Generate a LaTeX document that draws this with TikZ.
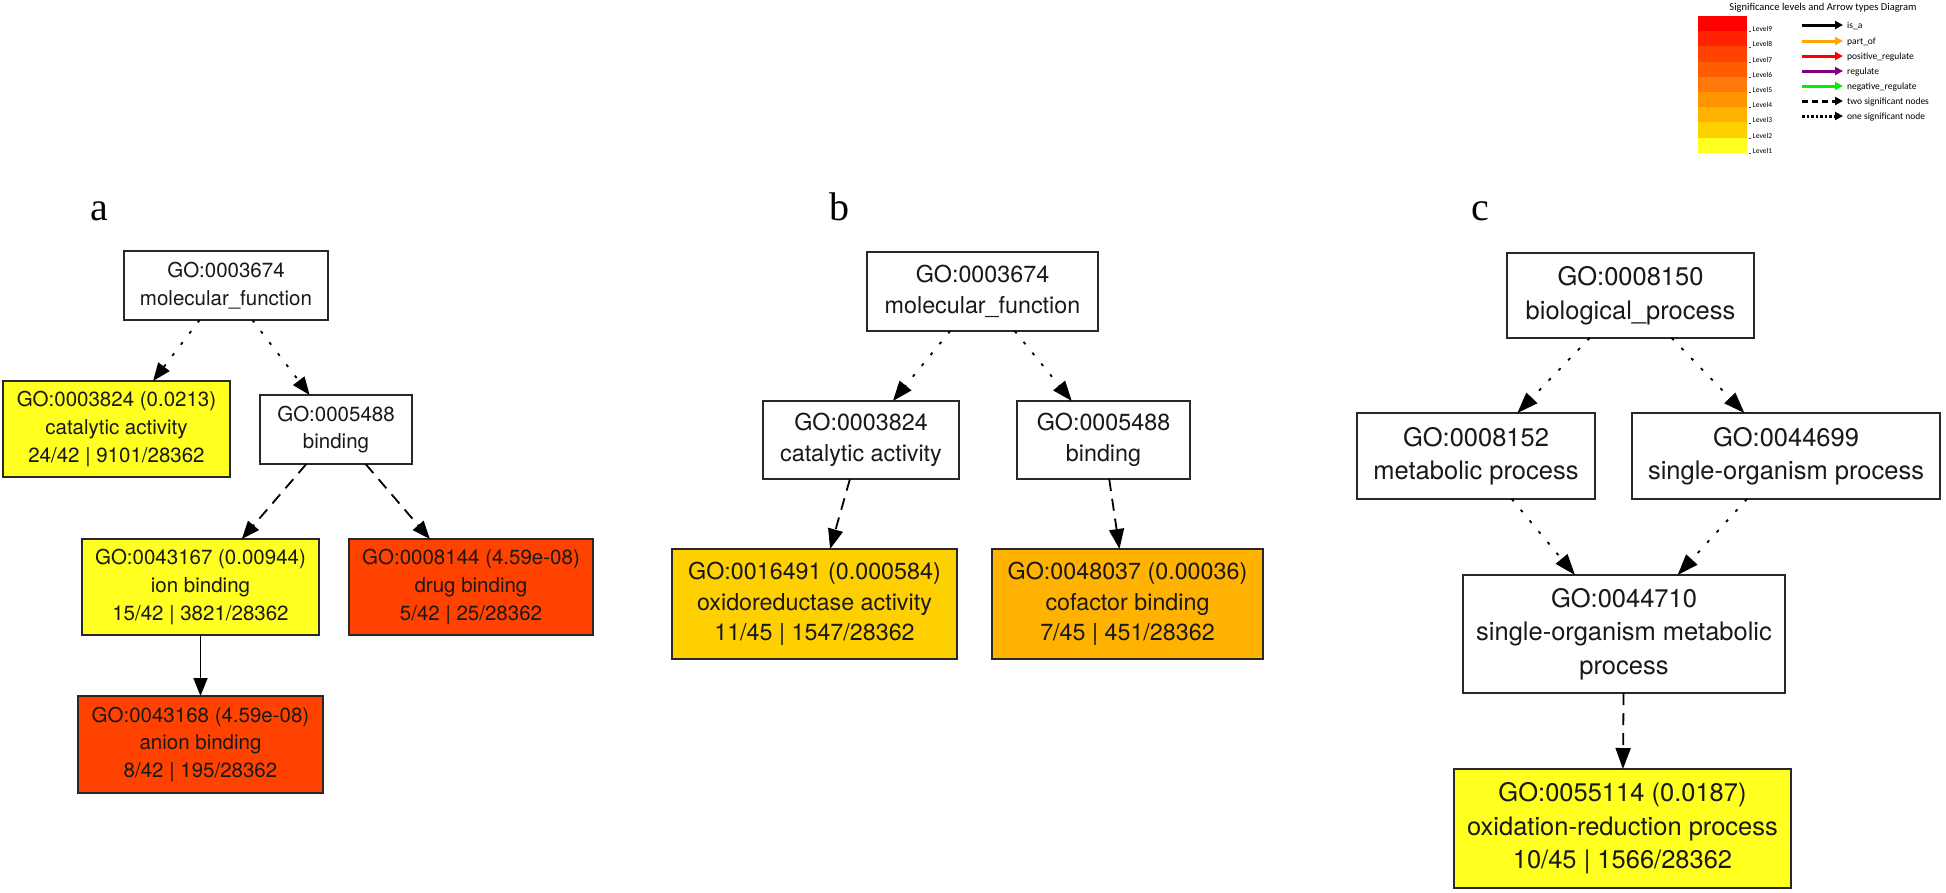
\documentclass[tikz,border=0pt]{standalone}
\usepackage{fontspec}
\setmainfont{TeX Gyre Heros}
\newfontfamily\serifletter{Liberation Serif}
\newfontfamily\legendfont{Carlito}
\usetikzlibrary{arrows.meta}
\definecolor{boxline}{RGB}{40,40,40}
\definecolor{textcol}{RGB}{25,25,25}
\definecolor{lvone}{RGB}{255,255,32}
\definecolor{lvtwo}{RGB}{255,208,0}
\definecolor{lvthree}{RGB}{255,178,0}
\definecolor{lvfour}{RGB}{255,150,0}
\definecolor{lvfive}{RGB}{255,122,10}
\definecolor{lvsix}{RGB}{255,94,0}
\definecolor{lvseven}{RGB}{255,66,0}
\definecolor{lveight}{RGB}{255,34,0}
\definecolor{lvnine}{RGB}{255,0,0}
\definecolor{partofcol}{RGB}{255,165,0}
\definecolor{regcol}{RGB}{128,0,128}
\definecolor{negcol}{RGB}{0,240,0}
\begin{document}
\begin{tikzpicture}[x=1pt,y=-1pt,
  gobox/.style={draw=boxline, line width=1.8pt, rectangle, inner sep=0pt, outer sep=0pt, align=center, text=textcol},
  fonta/.style={font=\fontsize{20.5}{27.7}\selectfont},
  fontb/.style={font=\fontsize{23.3}{30.5}\selectfont},
  fontc/.style={font=\fontsize{25.5}{33.5}\selectfont},
  dotedge/.style={line width=1.8pt, dash pattern=on 3pt off 11pt},
  dashedge/.style={line width=1.8pt, dash pattern=on 12pt off 8pt},
  solidedge/.style={line width=1.8pt},
  tipa/.style={-{Triangle[length=18pt,width=14pt]}},
  tipb/.style={-{Triangle[length=20pt,width=15pt]}},
  tipc/.style={-{Triangle[length=21pt,width=15pt]}},
  panellabel/.style={font=\serifletter\fontsize{40}{40}\selectfont, anchor=base},
  legtext/.style={font=\legendfont\fontsize{9.5}{11}\selectfont, anchor=base west, inner sep=0pt},
  lvtext/.style={font=\legendfont\fontsize{7.5}{9}\selectfont, anchor=base west, inner sep=0pt},
  legarrow/.style={line width=3pt, -{Triangle[length=8pt,width=8pt]}}
]
\useasboundingbox[fill=white] (0,0) rectangle (1946,892);

% ---------------- panel labels
\node[panellabel] (la) at (99,220) {a};
\node[panellabel] (lb) at (839,220) {b};
\node[panellabel] (lc) at (1480,220) {c};

% ---------------- panel a
\node[gobox, fonta, minimum width=204pt, minimum height=69pt] (A0) at (226,285.5) {GO:0003674\\molecular\_function};
\node[gobox, fonta, fill=lvone, minimum width=227pt, minimum height=96pt] (A1) at (116.5,429) {GO:0003824 (0.0213)\\catalytic activity\\24/42 | 9101/28362};
\node[gobox, fonta, minimum width=152pt, minimum height=69pt] (A2) at (336,429.5) {GO:0005488\\binding};
\node[gobox, fonta, fill=lvone, minimum width=237pt, minimum height=96pt] (A3) at (200.5,587) {GO:0043167 (0.00944)\\ion binding\\15/42 | 3821/28362};
\node[gobox, fonta, fill=lvseven, minimum width=244pt, minimum height=96pt] (A4) at (471,587) {GO:0008144 (4.59e-08)\\drug binding\\5/42 | 25/28362};
\node[gobox, fonta, fill=lvseven, minimum width=245pt, minimum height=97pt] (A5) at (200.5,744.5) {GO:0043168 (4.59e-08)\\anion binding\\8/42 | 195/28362};

\draw[dotedge, tipa] (A0) -- (A1);
\draw[dotedge, tipa] (A0) -- (A2);
\draw[dashedge, tipa] (A2) -- (A3);
\draw[dashedge, tipa] (A2) -- (A4);
\draw[solidedge, tipa] (A3) -- (A5);

% ---------------- panel b
\node[gobox, fontb, minimum width=231pt, minimum height=79pt] (B0) at (982.5,291.5) {GO:0003674\\molecular\_function};
\node[gobox, fontb, minimum width=196pt, minimum height=78pt] (B1) at (861,440) {GO:0003824\\catalytic activity};
\node[gobox, fontb, minimum width=173pt, minimum height=78pt] (B2) at (1103.5,440) {GO:0005488\\binding};
\node[gobox, fontb, fill=lvtwo, minimum width=285pt, minimum height=110pt] (B3) at (814.5,604) {GO:0016491 (0.000584)\\oxidoreductase activity\\11/45 | 1547/28362};
\node[gobox, fontb, fill=lvthree, minimum width=271pt, minimum height=110pt] (B4) at (1127.5,604) {GO:0048037 (0.00036)\\cofactor binding\\7/45 | 451/28362};

\draw[dotedge, tipb] (B0) -- (B1);
\draw[dotedge, tipb] (B0) -- (B2);
\draw[dashedge, tipb] (B1) -- (B3);
\draw[dashedge, tipb] (B2) -- (B4);

% ---------------- panel c
\node[gobox, fontc, minimum width=247pt, minimum height=85pt] (C0) at (1630.5,295.5) {GO:0008150\\biological\_process};
\node[gobox, fontc, minimum width=238pt, minimum height=86pt] (C1) at (1476,456) {GO:0008152\\metabolic process};
\node[gobox, fontc, minimum width=308pt, minimum height=86pt] (C2) at (1786,456) {GO:0044699\\single-organism process};
\node[gobox, fontc, minimum width=322pt, minimum height=118pt] (C3) at (1624,634) {GO:0044710\\single-organism metabolic\\process};
\node[gobox, fontc, fill=lvone, minimum width=337pt, minimum height=119pt] (C4) at (1622.5,828.5) {GO:0055114 (0.0187)\\oxidation-reduction process\\10/45 | 1566/28362};

\draw[dotedge, tipc] (C0) -- (C1);
\draw[dotedge, tipc] (C0) -- (C2);
\draw[dotedge, tipc] (C1) -- (C3);
\draw[dotedge, tipc] (C2) -- (C3);
\draw[dashedge, tipc] (C3) -- (C4);

% ---------------- legend
\node[font=\legendfont\fontsize{10.5}{12}\selectfont, anchor=base, inner sep=0pt] (legtitle) at (1823,10.5) {Significance levels and Arrow types Diagram};

\foreach \c [count=\k] in {lvnine,lveight,lvseven,lvsix,lvfive,lvfour,lvthree,lvtwo,lvone} {
  \fill[\c] (1698,{16+15.2*(\k-1)}) rectangle (1747,{16+15.2*\k});
}
\foreach \lab [count=\k] in {Level9,Level8,Level7,Level6,Level5,Level4,Level3,Level2,Level1} {
  \draw[line width=0.6pt, black!70] (1748.5,{16+15.2*\k+0.5}) -- (1751,{16+15.2*\k+0.5});
  \node[lvtext] (lv\k) at (1752.5,{16+15.2*\k+0.5}) {\lab};
}

\foreach \row/\st/\lab [count=\k] in {25/black/is\_a, 41/partofcol/part\_of, 56/red/positive\_regulate, 71/regcol/regulate, 86/negcol/negative\_regulate} {
  \coordinate (ls\k) at (1802,\row);
  \coordinate (le\k) at (1843,\row);
  \draw[legarrow, draw=\st, fill=\st] (ls\k) -- (le\k);
  \node[legtext] (lt\k) at (1847,\row+3) {\lab};
}
\coordinate (ls6) at (1802,101);
\coordinate (le6) at (1843,101);
\draw[legarrow, dash pattern=on 6pt off 4pt] (ls6) -- (le6);
\node[legtext] (lt6) at (1847,104) {two significant nodes};
\coordinate (ls7) at (1802,116);
\coordinate (le7) at (1843,116);
\draw[legarrow, dash pattern=on 2.5pt off 2pt] (ls7) -- (le7);
\node[legtext] (lt7) at (1847,119) {one significant node};
\end{tikzpicture}
\end{document}
